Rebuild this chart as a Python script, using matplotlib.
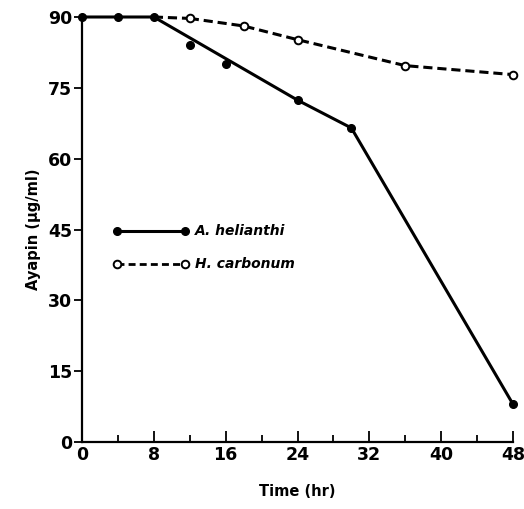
import matplotlib
matplotlib.use("Agg")
import matplotlib.pyplot as plt
from matplotlib.ticker import MultipleLocator

# Data
ah_time = [0, 4, 8, 12, 16, 24, 30, 48]
ah_val = [90, 90, 90, 84, 80, 72.4, 66.5, 8]
ah_fit_time = [0, 8, 24, 30, 48]
ah_fit_val = [90, 90, 72.4, 66.5, 8]
hc_time = [0, 12, 18, 24, 36, 48]
hc_val = [90, 89.7, 88.1, 85.2, 79.7, 77.8]
x_ticks = [0, 8, 16, 24, 32, 40, 48]
y_ticks = [0, 15, 30, 45, 60, 75, 90]

plt.rcParams['font.family'] = ['DejaVu Sans']
fig = plt.figure(figsize=(5.24, 5.09), dpi=100)
ax = fig.add_axes([0.1565, 0.1316, 0.8225, 0.835])

ax.plot(hc_time[1:], hc_val[1:], color='black', lw=2.2, ls=(0, (3, 1.6)), zorder=2, clip_on=False)
ax.plot([8, 12], [90, 89.7], color='black', lw=2.2, ls=(0, (3, 1.6)), zorder=2, clip_on=False)
ax.plot(hc_time[1:], hc_val[1:], ls='none', marker='o', ms=5.5, mfc='white', mec='black', mew=1.4,
        zorder=4, clip_on=False)
ax.plot(ah_fit_time, ah_fit_val, color='black', lw=2.2, zorder=3, clip_on=False)
ax.plot(ah_time, ah_val, ls='none', marker='o', ms=5.5, color='black', zorder=4, clip_on=False)

# legend drawn manually via axes coords
lx0, lx1 = (117 - 82) / 431, (185 - 82) / 431
ly1 = (442 - 231) / 425
ly2 = (442 - 264) / 425
ax.plot([lx0, lx1], [ly1, ly1], transform=ax.transAxes, color='black', lw=2.2, marker='o', ms=5.5,
        clip_on=False)
ax.plot([lx0, lx1], [ly2, ly2], transform=ax.transAxes, color='black', lw=2.0, ls=(0, (2.5, 1.5)),
        clip_on=False)
ax.plot([lx0, lx1], [ly2, ly2], transform=ax.transAxes, ls='none', marker='o', ms=5.5, mfc='white',
        mec='black', mew=1.4, clip_on=False)
tx = (195 - 82) / 431
ax.text(tx, ly1, 'A. helianthi', transform=ax.transAxes, fontsize=10, fontweight='bold',
        fontstyle='italic', va='center', ha='left')
ax.text(tx, ly2, 'H. carbonum', transform=ax.transAxes, fontsize=10, fontweight='bold',
        fontstyle='italic', va='center', ha='left')

ax.set_xlim(0, 48)
ax.set_ylim(0, 90)
ax.set_xticks(x_ticks)
ax.set_yticks(y_ticks)
ax.xaxis.set_minor_locator(MultipleLocator(4))
ax.tick_params(axis='x', which='major', direction='in', length=8, width=1.3, labelsize=12.5, pad=3)
ax.tick_params(axis='x', which='minor', direction='in', length=5, width=1.3)
ax.tick_params(axis='y', which='major', direction='out', length=6, width=1.3, labelsize=12.5, pad=1)
for lbl in ax.get_xticklabels() + ax.get_yticklabels():
    lbl.set_fontweight('bold')
for s in ['top', 'right']:
    ax.spines[s].set_visible(False)
for s in ['left', 'bottom']:
    ax.spines[s].set_linewidth(1.6)

ax.set_xlabel('Time (hr)', fontsize=10.5, fontweight='bold', labelpad=14)
ax.set_ylabel('Ayapin (\u00b5g/ml)', fontsize=10.5, fontweight='bold', labelpad=5)

fig.savefig('out.png', dpi=100)
